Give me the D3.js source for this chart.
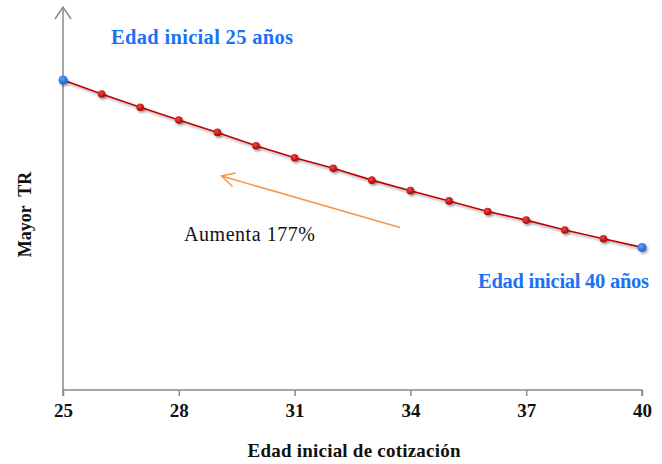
<!DOCTYPE html>
<html>
<head>
<meta charset="utf-8">
<script src="https://cdn.jsdelivr.net/npm/d3@7"></script>
</head>
<body style="margin:0;background:#fff">
<svg id="chart" width="662" height="464" style="display:block"></svg>
<script>
// Starting age of contributions (years)
const edades = [25, 26, 27, 28, 29, 30, 31, 32, 33, 34, 35, 36, 37, 38, 39, 40];
// Relative replacement rate (index, age 25 = 100)
const tasa = [100, 95.5, 91.2, 87.1, 83.1, 78.8, 74.9, 71.5, 67.7, 64.3, 61.0, 57.6, 54.8, 51.6, 48.8, 46.0];
const ticksX = [25, 28, 31, 34, 37, 40];

const FONT = '"Liberation Serif", Tinos, "Times New Roman"';

const svg = d3.select("#chart");
const x = d3.scaleLinear().domain([25, 40]).range([63, 642]);
const y = d3.scaleLinear().domain([0, 100]).range([390, 80]);

const defs = svg.append("defs");
const shadow = defs.append("filter").attr("id", "sombra")
  .attr("x", "-100%").attr("y", "-100%").attr("width", "300%").attr("height", "300%");
shadow.append("feDropShadow").attr("dx", 1.5).attr("dy", 2).attr("stdDeviation", 1.3)
  .attr("flood-color", "#000").attr("flood-opacity", 0.35);

function grad(id, light, dark) {
  const g = defs.append("radialGradient").attr("id", id)
    .attr("cx", "40%").attr("cy", "35%").attr("r", "65%");
  g.append("stop").attr("offset", "0%").attr("stop-color", light);
  g.append("stop").attr("offset", "100%").attr("stop-color", dark);
}
grad("rojo", "#e84a4a", "#b00000");
grad("azul", "#5aa0ff", "#1560d8");

// Axes
const axisColor = "#8a8a8a";
const xAxis = svg.append("g").attr("transform", `translate(0,${y(0)})`)
  .call(d3.axisBottom(x).tickValues(ticksX).tickSize(6).tickFormat(d3.format("d")));
xAxis.attr("font-family", FONT).attr("font-size", 19);
xAxis.select(".domain").attr("stroke", axisColor).attr("stroke-width", 1.5)
  .attr("d", `M${x(25)},6V0H${x(40)}V6`);
xAxis.selectAll(".tick line").attr("stroke", axisColor).attr("stroke-width", 1.5);
xAxis.selectAll(".tick text")
  .attr("y", 27).attr("dy", null)
  .attr("fill", "#111").attr("font-weight", "bold");

// Vertical axis with open arrow head
svg.append("line").attr("x1", x(25)).attr("x2", x(25)).attr("y1", y(0)).attr("y2", 7)
  .attr("stroke", axisColor).attr("stroke-width", 1.5);
svg.append("path").attr("d", `M${x(25) - 8},19L${x(25)},7L${x(25) + 8},19`)
  .attr("fill", "none").attr("stroke", axisColor).attr("stroke-width", 1.5);

// Series line
const pts = edades.map((e, i) => [e, tasa[i]]);
svg.append("path").datum(pts)
  .attr("d", d3.line().x(d => x(d[0])).y(d => y(d[1])))
  .attr("fill", "none").attr("stroke", "#c00000").attr("stroke-width", 1.6)
  .attr("filter", "url(#sombra)");

// Markers
svg.append("g").selectAll("circle").data(pts).join("circle")
  .attr("cx", d => x(d[0])).attr("cy", d => y(d[1]))
  .attr("r", (d, i) => (i === 0 || i === pts.length - 1) ? 4.5 : 3.8)
  .attr("fill", (d, i) => (i === 0 || i === pts.length - 1) ? "url(#azul)" : "url(#rojo)")
  .attr("filter", "url(#sombra)");

// Annotations
const azulTxt = "#1a72f5";
svg.append("text").attr("x", 111).attr("y", 44).attr("font-family", FONT)
  .attr("font-size", 20.5).attr("font-weight", "bold").attr("fill", azulTxt)
  .attr("textLength", 182).text("Edad inicial 25 años");
svg.append("text").attr("x", 478).attr("y", 288).attr("font-family", FONT)
  .attr("font-size", 20.5).attr("font-weight", "bold").attr("fill", azulTxt)
  .attr("textLength", 171).text("Edad inicial 40 años");

svg.append("text").attr("x", 184).attr("y", 241).attr("font-family", FONT)
  .attr("font-size", 20).attr("fill", "#111")
  .attr("textLength", 131).text("Aumenta 177%");

// Orange arrow
const naranja = "#f79646";
svg.append("line").attr("x1", 400).attr("y1", 227.5).attr("x2", 221.5).attr("y2", 176)
  .attr("stroke", naranja).attr("stroke-width", 1.5);
svg.append("path").attr("d", "M235.5,173L221.5,176L232.5,186.5")
  .attr("fill", "none").attr("stroke", naranja).attr("stroke-width", 1.5);

// Axis titles
svg.append("text").attr("x", 354).attr("y", 457).attr("text-anchor", "middle")
  .attr("font-family", FONT)
  .attr("font-size", 19).attr("font-weight", "bold").attr("fill", "#111")
  .attr("textLength", 213).text("Edad inicial de cotización");
svg.append("text")
  .attr("transform", "translate(31,214.5) rotate(-90)").attr("font-family", FONT)
  .attr("text-anchor", "middle").attr("font-size", 18).attr("font-weight", "bold")
  .attr("fill", "#111").style("white-space", "pre").text("Mayor  TR");
</script>
</body>
</html>
